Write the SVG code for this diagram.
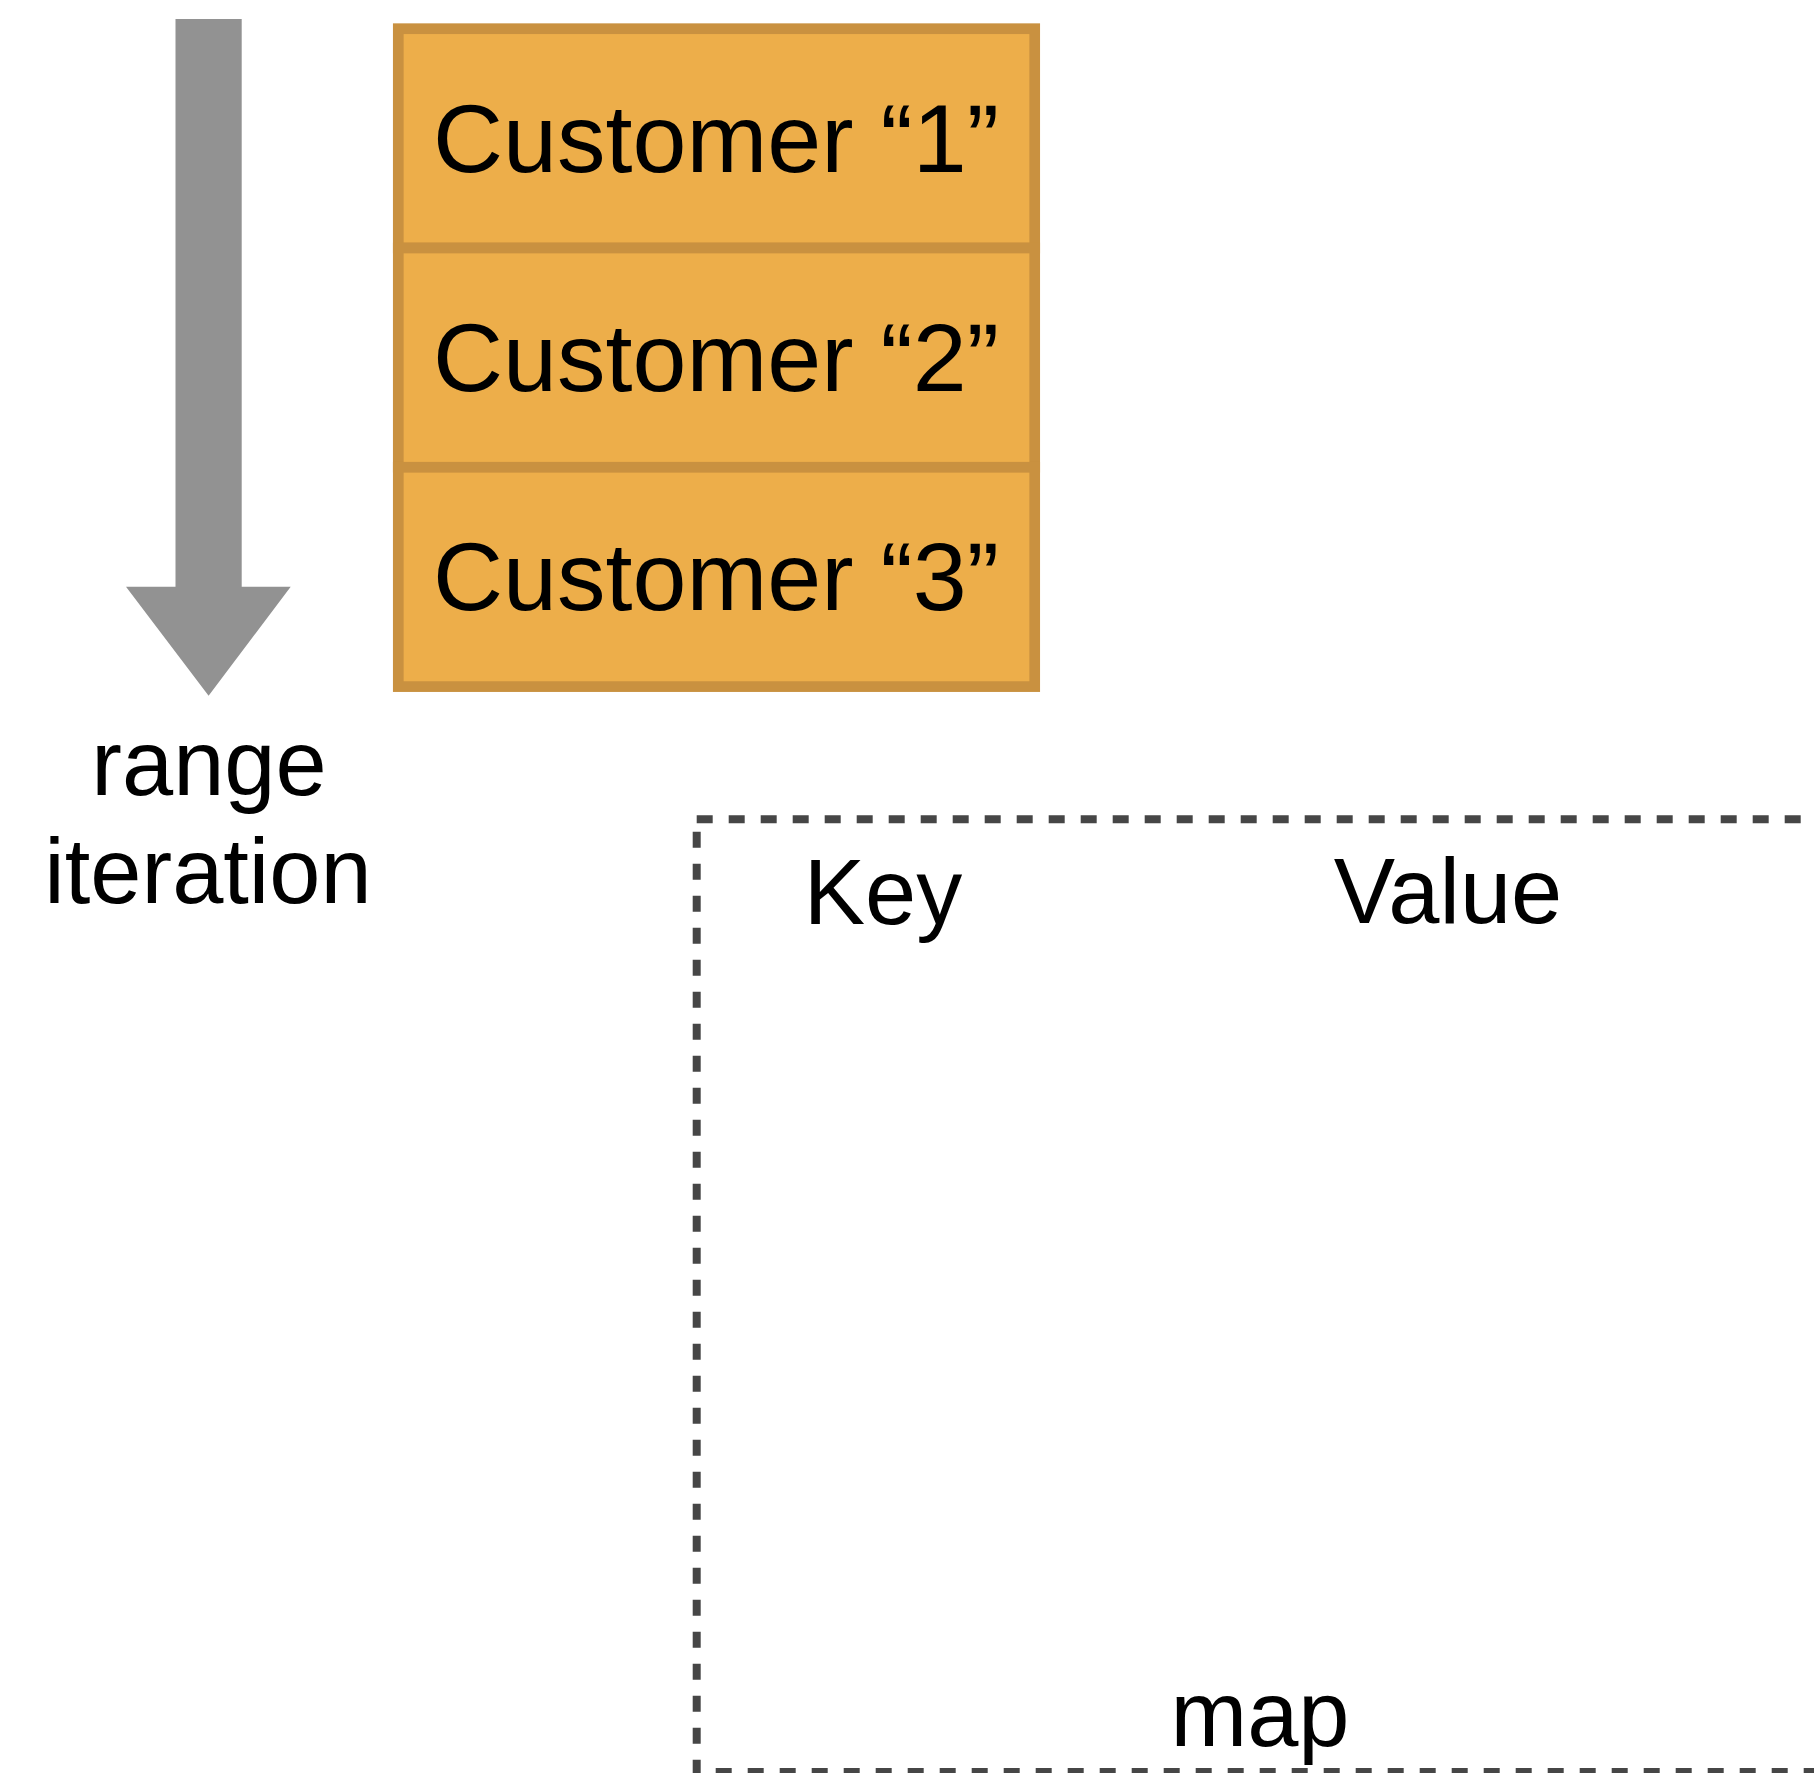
<svg xmlns="http://www.w3.org/2000/svg" width="1814" height="1773" viewBox="0 0 1814 1773">
<style>
.lbl{font-family:"Liberation Sans",Arial,Helvetica,sans-serif;fill:#000;text-anchor:middle}
.cust{font-size:97px}
.big{font-size:92px}
.cell{fill:#EDAE4A;stroke:#C99140;stroke-width:10.7}
.dash{fill:none;stroke:#464646;stroke-width:8;stroke-dasharray:16 16}
</style>
<rect width="1814" height="1773" fill="#fff"/>
<g id="connectors">
<polygon id="range-arrow" points="175.5,19 241.7,19 241.7,586.7 290.7,586.7 208.6,695.7 126,586.7 175.5,586.7" fill="#929292"/>
</g>
<g id="range-label">
<text class="lbl big" x="209" y="795">range</text>
<text class="lbl big" x="208" y="903">iteration</text>
</g>
<g id="customer1">
<rect class="cell" x="398.3" y="28.7" width="636.4" height="219.3"/>
<text class="lbl cust" x="716" y="172">Customer “1”</text>
</g>
<g id="customer2">
<rect class="cell" x="398.3" y="248" width="636.4" height="219.3"/>
<text class="lbl cust" x="716" y="391">Customer “2”</text>
</g>
<g id="customer3">
<rect class="cell" x="398.3" y="467.3" width="636.4" height="219.3"/>
<text class="lbl cust" x="716" y="610">Customer “3”</text>
</g>
<g id="map">
<line class="dash" x1="696.7" y1="819.3" x2="1840" y2="819.3"/>
<line class="dash" x1="696.7" y1="831.7" x2="696.7" y2="1790"/>
<line class="dash" x1="715.7" y1="1772" x2="1840" y2="1772"/>
<text class="lbl big" x="883" y="924">Key</text>
<text class="lbl big" x="1448" y="923">Value</text>
<text class="lbl big" x="1260" y="1746">map</text>
</g>
</svg>
